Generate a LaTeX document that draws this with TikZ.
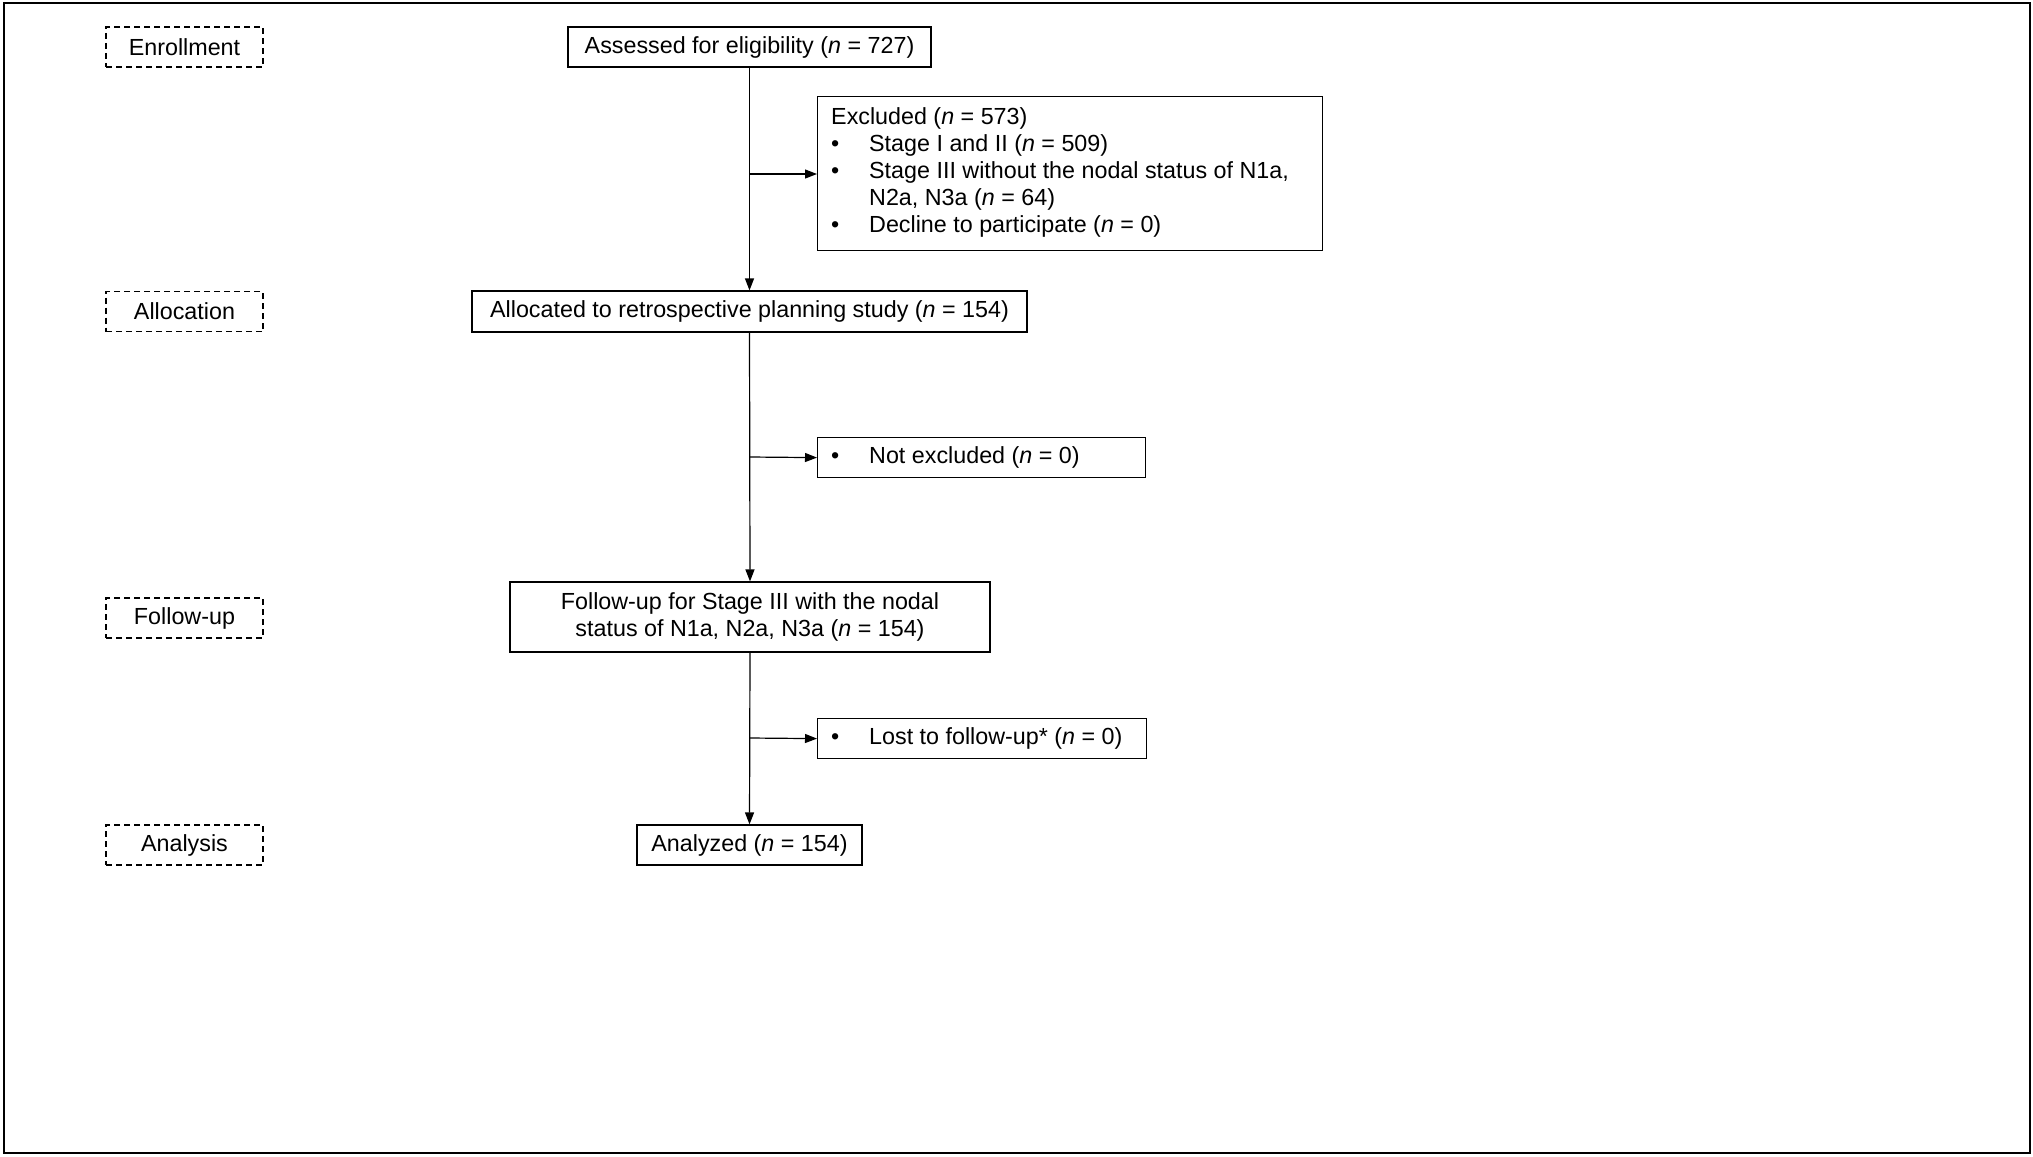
\documentclass[tikz,border=0pt]{standalone}
\usepackage{fontspec}
\setmainfont{Liberation Sans}
\usetikzlibrary{arrows.meta}
\begin{document}
\begin{tikzpicture}[x=1pt,y=-1pt,
  box/.style={draw,line width=1.2pt,inner sep=0pt,font=\fontsize{23.3}{28}\selectfont},
  stagebox/.style={box,dash pattern=on 6pt off 4pt,minimum width=157pt,minimum height=40pt},
  arr/.style={line width=1.2pt,-{Triangle[length=12pt,width=9pt]}},
  ln/.style={line width=1.2pt}]
\useasboundingbox (0,0) rectangle (2033,1156);
\draw[line width=1.2pt] (4,3) rectangle (2030,1153);
\newcommand{\bx}[5]{\node[box,minimum width=#3pt,minimum height=#4pt,align=center] (#1) at (#2) {#5};}
\node[stagebox] (s1) at (184.5,47) {Enrollment};
\node[stagebox] (s2) at (184.5,311.5) {Allocation};
\node[stagebox] (s3) at (184.5,618) {Follow-up};
\node[stagebox] (s4) at (184.5,845) {Analysis};
\bx{a}{749.5,47}{363}{40}{Assessed for eligibility (\textit{n} = 727)}
\bx{al}{749.5,311.5}{555}{41}{Allocated to retrospective planning study (\textit{n} = 154)}
\bx{f}{750,617}{480}{70}{Follow-up for Stage III with the nodal\\[-1pt] status of N1a, N2a, N3a (\textit{n} = 154)}
\bx{an}{749.5,845}{225}{40}{Analyzed (\textit{n} = 154)}
\node[box,minimum width=505pt,minimum height=154pt,anchor=north west,align=left] (ex) at (817,96) {};
\node[anchor=north west,inner sep=0pt,font=\fontsize{23.3}{28}\selectfont] at (831,105) {%
\begin{tabular}{@{}p{38pt}@{}l@{}}
\multicolumn{2}{@{}l@{}}{Excluded (\textit{n} = 573)}\\[-1pt]
\textbullet & Stage I and II (\textit{n} = 509)\\[-1pt]
\textbullet & Stage III without the nodal status of N1a,\\[-1pt]
 & N2a, N3a (\textit{n} = 64)\\[-1pt]
\textbullet & Decline to participate (\textit{n} = 0)
\end{tabular}};
\node[box,minimum width=328pt,minimum height=40pt,anchor=north west] (ne) at (817,437) {};
\node[anchor=west,inner sep=0pt,font=\fontsize{23.3}{28}\selectfont] at (831,457) {\makebox[38pt][l]{\textbullet}Not excluded (\textit{n} = 0)};
\node[box,minimum width=329pt,minimum height=40pt,anchor=north west] (lo) at (817,718) {};
\node[anchor=west,inner sep=0pt,font=\fontsize{23.3}{28}\selectfont] at (831,738) {\makebox[38pt][l]{\textbullet}Lost to follow-up* (\textit{n} = 0)};
\coordinate (c1) at (749.5,174);
\coordinate (c2) at (749.5,457);
\coordinate (c3) at (749.5,738);
\draw[arr] (a.south) -- (al.north);
\draw[arr] (al.south) -- (f.north);
\draw[arr] (f.south) -- (an.north);
\draw[arr] (c1) -- (c1 -| ex.west);
\draw[arr] (c2) -- (ne.west);
\draw[arr] (c3) -- (lo.west);
\end{tikzpicture}
\end{document}
